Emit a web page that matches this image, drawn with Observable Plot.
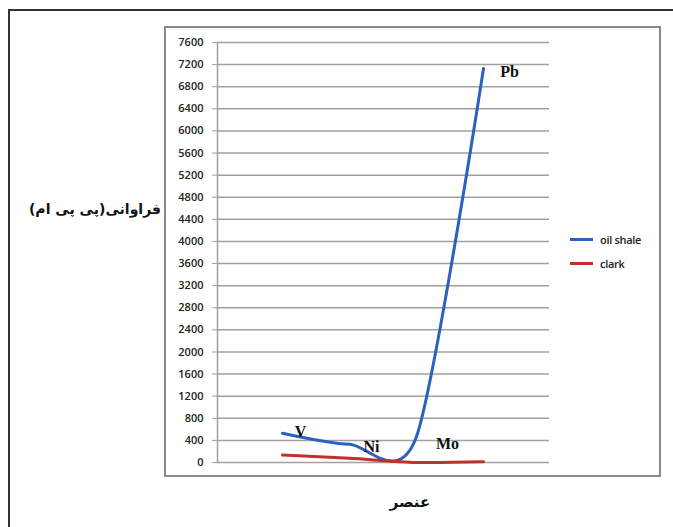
<!DOCTYPE html>
<html>
<head>
<meta charset="utf-8">
<script src="https://cdn.jsdelivr.net/npm/d3@7"></script>
<script src="https://cdn.jsdelivr.net/npm/@observablehq/plot@0.6"></script>
<style>
  html, body { margin: 0; padding: 0; background: #fff; }
  #wrap { position: relative; width: 673px; height: 527px; overflow: hidden; background: #fff; }
  .outer { position: absolute; left: 8px; top: 9px; width: 700px; height: 540px; border: 2px solid #333; box-sizing: border-box; }
  .inner { position: absolute; left: 164px; top: 26px; width: 497px; height: 451px; border: 2px solid #8a8a8a; box-sizing: border-box; }
  #chart { position: absolute; left: 0; top: 0; }
  .ytitle { position: absolute; left: 20px; top: 201px; width: 150px; text-align: center; direction: rtl;
            font-family: "DejaVu Sans", sans-serif; font-weight: bold; font-size: 14px; color: #111; }
  .xtitle { position: absolute; left: 360px; top: 493px; width: 100px; text-align: center; direction: rtl;
            font-family: "DejaVu Sans", sans-serif; font-weight: bold; font-size: 15px; color: #111; }
  .legend { position: absolute; left: 570px; top: 231px; font-family: "Open Sans", sans-serif; font-size: 11px; color: #222; font-weight: 600; letter-spacing: -0.3px; }
  .legend div { display: flex; align-items: center; height: 16px; margin-bottom: 8px; }
  .legend span.sw { display: inline-block; width: 23px; height: 3px; margin-right: 7px; }
</style>
</head>
<body>
<div id="wrap">
  <div class="outer"></div>
  <div class="inner"></div>
  <div id="chart"></div>
  <div class="ytitle">فراوانی(پی پی ام)</div>
  <div class="xtitle">عنصر</div>
  <div class="legend" id="legend"></div>
</div>
<script>
// Data
const elements = ["V", "Ni", "Mo", "Pb"];
const oilShale = [530, 330, 470, 7130];
const clark = [135, 75, 1.5, 12.5];
const seriesNames = ["oil shale", "clark"];
const seriesColors = ["#2a62bd", "#c0302c"];
const yTicks = d3.range(0, 7601, 400);

const rows = [];
elements.forEach((e, i) => {
  rows.push({element: e, value: oilShale[i], series: seriesNames[0]});
  rows.push({element: e, value: clark[i], series: seriesNames[1]});
});
const labelRows = elements.map((e, i) => ({element: e, value: oilShale[i]}));
const labelDx = {V: 18, Ni: 22, Mo: 31, Pb: 26};
const labelDy = {V: -1, Ni: 3, Mo: 7, Pb: 3};

const chart = Plot.plot({
  width: 673,
  height: 527,
  marginLeft: 217,
  marginRight: 124,
  marginTop: 42,
  marginBottom: 65,
  style: {background: "transparent", overflow: "visible"},
  x: {type: "point", domain: elements, padding: 0, insetLeft: 65, insetRight: 66, axis: null, label: null},
  y: {domain: [0, 7600], ticks: yTicks, axis: null, label: null},
  color: {domain: seriesNames, range: seriesColors},
  marks: [
    Plot.gridY(yTicks, {stroke: "#a0a0a0", strokeOpacity: 1, strokeWidth: 1.5}),
    Plot.frame({anchor: "left", stroke: "#a0a0a0", strokeWidth: 1.5}),
    Plot.axisY(yTicks, {tickSize: 5, tickPadding: 9, stroke: "#a0a0a0", tickFormat: d => String(d), label: null,
      fontSize: 11, fontWeight: 600, fill: "#222", fontFamily: "Open Sans, sans-serif"}),
    Plot.line(rows, {x: "element", y: "value", z: "series", stroke: "series", strokeWidth: 3,
      curve: "cardinal", tension: 0.2}),
    ...elements.map(el => Plot.text(labelRows.filter(d => d.element === el), {
      x: "element", y: "value", text: "element", dx: labelDx[el], dy: labelDy[el],
      fontFamily: "Liberation Serif, serif", fontWeight: "bold", fontSize: 16, fill: "#111"
    }))
  ]
});
document.getElementById("chart").appendChild(chart);

const legend = document.getElementById("legend");
seriesNames.forEach((s, i) => {
  const row = document.createElement("div");
  row.innerHTML = `<span class="sw" style="background:${seriesColors[i]}"></span>${s}`;
  legend.appendChild(row);
});
</script>
</body>
</html>
